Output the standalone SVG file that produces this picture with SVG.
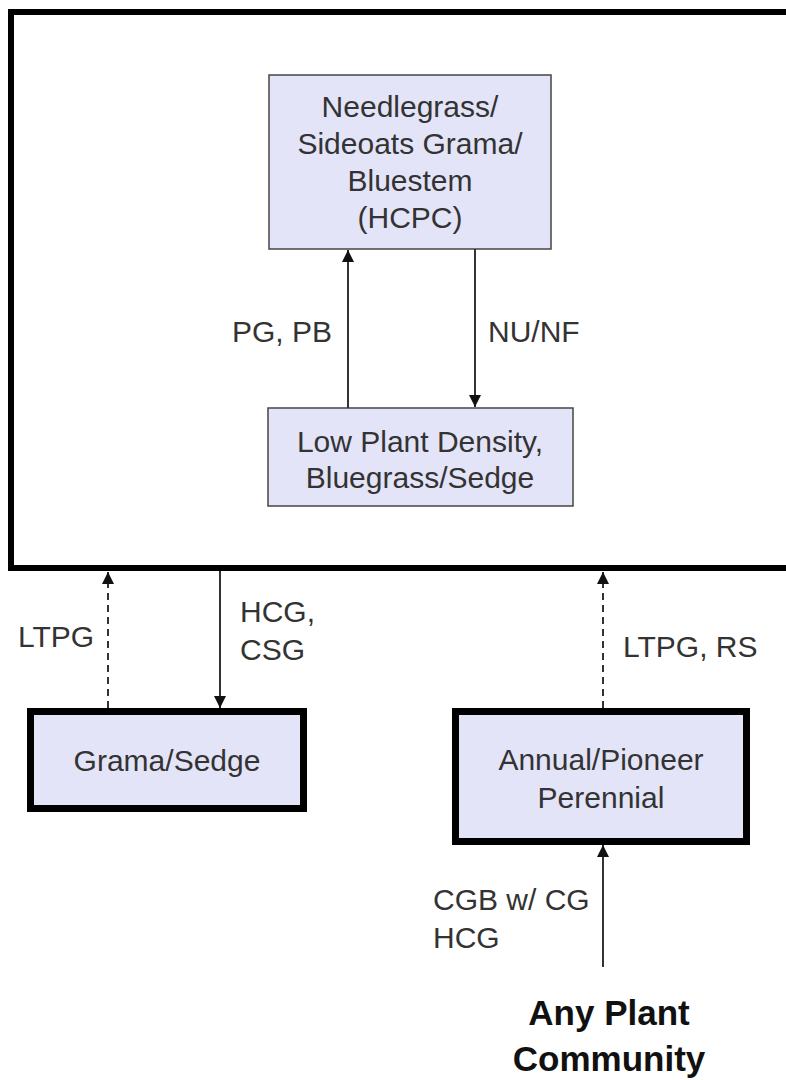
<svg xmlns="http://www.w3.org/2000/svg" width="786" height="1080" viewBox="0 0 786 1080">
<style>
text{font-family:"Liberation Sans",Arial,sans-serif;fill:#333;font-size:30px}
.c{text-anchor:middle}
.b{font-weight:bold;fill:#111;font-size:35px}
.box{fill:#E4E4F8;stroke:#444;stroke-width:1.5}
.tbox{fill:#E4E4F8;stroke:#000;stroke-width:7}
.ln{stroke:#333;stroke-width:2;fill:none}
.dl{stroke:#333;stroke-width:2;fill:none;stroke-dasharray:7,5}
</style>
<defs>
<marker id="ah" viewBox="0 0 10 10" refX="10" refY="5" markerWidth="6" markerHeight="6" orient="auto" markerUnits="strokeWidth">
<path d="M0,0L10,5L0,10z" fill="#111"/>
</marker>
</defs>
<rect width="786" height="1080" fill="#fff"/>
<g id="outer"><rect x="11" y="12" width="800" height="556" fill="none" stroke="#000" stroke-width="6"/></g>
<g id="hcpc"><rect class="box" x="269" y="75" width="282" height="174"/>
<text class="c" x="410" y="117">Needlegrass/</text>
<text class="c" x="410" y="154">Sideoats Grama/</text>
<text class="c" x="410" y="191">Bluestem</text>
<text class="c" x="410" y="228">(HCPC)</text></g>
<g id="lowdensity"><rect class="box" x="268" y="408" width="305" height="98"/>
<text class="c" x="420" y="452">Low Plant Density,</text>
<text class="c" x="420" y="488">Bluegrass/Sedge</text></g>
<g id="grama"><rect class="tbox" x="30.5" y="711.5" width="273" height="97"/>
<text class="c" x="167" y="771">Grama/Sedge</text></g>
<g id="annual"><rect class="tbox" x="455.5" y="711.5" width="291" height="130"/>
<text class="c" x="601" y="770">Annual/Pioneer</text>
<text class="c" x="601" y="808">Perennial</text></g>
<g id="any"><text class="c b" x="609" y="1025">Any Plant</text>
<text class="c b" x="609" y="1071">Community</text></g>
<g id="connectors">
<line class="ln" x1="348" y1="408" x2="348" y2="250" marker-end="url(#ah)"/>
<line class="ln" x1="475" y1="249" x2="475" y2="407" marker-end="url(#ah)"/>
<line class="dl" x1="108" y1="708" x2="108" y2="572" marker-end="url(#ah)"/>
<line class="ln" x1="220" y1="571" x2="220" y2="708" marker-end="url(#ah)"/>
<line class="dl" x1="603" y1="708" x2="603" y2="572" marker-end="url(#ah)"/>
<line class="ln" x1="603" y1="967" x2="603" y2="845" marker-end="url(#ah)"/>
</g>
<g id="labels">
<text x="232" y="342">PG, PB</text>
<text x="488" y="342">NU/NF</text>
<text x="18" y="647">LTPG</text>
<text x="240" y="622">HCG,</text>
<text x="240" y="660">CSG</text>
<text x="623" y="657">LTPG, RS</text>
<text x="433" y="910">CGB w/ CG</text>
<text x="433" y="948">HCG</text>
</g>
</svg>
